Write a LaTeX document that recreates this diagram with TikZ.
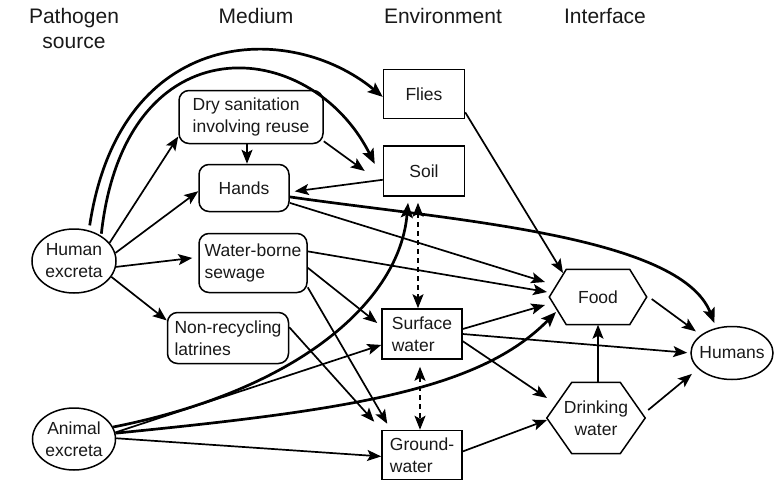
\documentclass[tikz,border=0pt]{standalone}
\usepackage{fontspec}
\setmainfont{Liberation Sans}
\usetikzlibrary{arrows.meta,shapes.geometric}
\begin{document}
\begin{tikzpicture}[x=1pt,y=-1pt,
  every node/.style={font=\fontsize{17.5}{22}\selectfont, text=black!90},
  hdr/.style={font=\fontsize{21}{25}\selectfont, align=center},
  box/.style={draw, line width=1.5pt, rectangle, inner sep=0pt, align=left},
  rbox/.style={box, rounded corners=10pt},
  oval/.style={draw, line width=1.5pt, ellipse, inner sep=0pt, align=center},
  hexnode/.style={inner sep=0pt, align=center},
  hexline/.style={line width=1.5pt, line join=miter},
  ln/.style={line width=1.7pt, -{Stealth[length=14pt,width=11pt,inset=3pt]}},
  bln/.style={line width=2.7pt, -{Stealth[length=15pt,width=12pt,inset=3pt]}},
  dbl/.style={line width=1.5pt, dash pattern=on 5pt off 4pt,
    {Stealth[length=14pt,width=11pt,inset=3pt]}-{Stealth[length=14pt,width=11pt,inset=3pt]}},
]
\path[fill=white, use as bounding box] (0,0) rectangle (774,488);

% headers
\node[hdr] (h1) at (74,28) {Pathogen\\source};
\node[hdr, anchor=base] (h2) at (256,23) {Medium};
\node[hdr, anchor=base] (h3) at (443,23) {Environment};
\node[hdr, anchor=base] (h4) at (605,23) {Interface};

% nodes
\node[oval, minimum width=84pt, minimum height=64pt] (he) at (74,261) {Human\\excreta};
\node[oval, minimum width=83pt, minimum height=62pt] (ae) at (74,439) {Animal\\excreta};
\node[rbox, minimum width=144pt, minimum height=53pt] (dry) at (251,117) {Dry sanitation\\involving reuse};
\node[rbox, minimum width=90pt, minimum height=47pt] (hands) at (244,188) {Hands};
\node[rbox, minimum width=108pt, minimum height=59pt] (wbs) at (253,263) {Water-borne\\sewage};
\node[rbox, minimum width=121pt, minimum height=51pt] (nrl) at (228,338) {Non-recycling\\latrines};
\node[box, minimum width=81pt, minimum height=49pt] (flies) at (424,94) {Flies};
\node[box, minimum width=81pt, minimum height=50pt] (soil) at (424,171) {Soil};
\node[box, minimum width=80pt, minimum height=50pt] (sw) at (422,334) {Surface\\water};
\node[box, minimum width=80pt, minimum height=49pt] (gw) at (422,455) {Ground-\\water};
\node[hexnode, minimum width=97pt, minimum height=55pt] (food) at (598,297) {Food};
\node[hexnode, minimum width=98pt, minimum height=71pt] (dw) at (596,418) {Drinking\\water};
\node[oval, minimum width=82pt, minimum height=53pt, label={center:Humans}] (humans) at (732,353) {};

% hexagon outlines
\draw[hexline] (food.west) -- ([xshift=17pt]food.north west) -- ([xshift=-17pt]food.north east)
  -- (food.east) -- ([xshift=-17pt]food.south east) -- ([xshift=17pt]food.south west) -- cycle;
\draw[hexline] (dw.west) -- ([xshift=25pt]dw.north west) -- ([xshift=-25pt]dw.north east)
  -- (dw.east) -- ([xshift=-25pt]dw.south east) -- ([xshift=25pt]dw.south west) -- cycle;

% human excreta
\draw[bln, shorten <=5pt] (he.64) .. controls (120,25) and (290,20) .. (flies.184);
\draw[bln, shorten <=2pt] (he.43) .. controls (125,20) and (310,35) .. ([shift={(-8,-7)}]soil.west);
\draw[ln] (he.27) -- (dry.195);
\draw[ln] (he.11) -- (hands.184);
\draw[ln, shorten >=6pt] (he.-8) -- (wbs.174);
\draw[ln] (he.-23) -- (nrl.164);

% medium
\draw[ln] ([xshift=-4pt]dry.south) -- ([xshift=3pt]hands.north);
\draw[ln] ([shift={(0,-3)}]dry.south east) -- ([shift={(-18,0)}]soil.west);
\draw[ln, shorten >=5pt] (soil.192) -- (hands.-5);
\draw[bln, shorten >=5pt] (hands.-11) .. controls (450,220) and (680,235) .. (humans.122);
\draw[ln] (hands.-18) -- ([shift={(-53,-15)}]food.center);
\draw[ln] (flies.-24) -- ([shift={(-35,-24)}]food.center);
\draw[ln] (wbs.12) -- ([shift={(-51,-5)}]food.center);
\draw[ln] (wbs.-5) -- ([shift={(-4,-11)}]sw.west);
\draw[ln] (wbs.-24) -- ([shift={(6,-6)}]gw.north west);
\draw[ln] (nrl.10) -- ([shift={(-7,-8)}]gw.north west);

% animal excreta
\draw[bln] (ae.17) .. controls (300,390) and (400,300) .. ([shift={(-16,6)}]soil.south);
\draw[bln] (ae.8) .. controls (350,410) and (480,390) .. ([shift={(-42,15)}]food.center);
\draw[ln] (ae.9) -- (sw.195);
\draw[ln] (ae.1) -- (gw.182);

% environment links
\draw[dbl] ([shift={(-6,6)}]soil.south) -- ([xshift=-4pt]sw.north);
\draw[dbl] ([shift={(-2,7)}]sw.south) -- ([xshift=-2pt]gw.north);
\draw[ln] (sw.7) -- ([shift={(-53,8)}]food.center);
\draw[ln, shorten >=3pt] (sw.0) -- (humans.west);
\draw[ln] (sw.-10) -- ([shift={(-49,-20)}]dw.center);
\draw[ln] (gw.5) -- ([shift={(-49,2)}]dw.center);

% interface
\draw[ln] ([xshift=2pt]dw.north) -- (food.south);
\draw[ln, shorten >=8pt] ([shift={(3,-8)}]dw.east) -- (humans.205);
\draw[ln, shorten >=6pt] ([shift={(5,2)}]food.east) -- (humans.150);
\end{tikzpicture}
\end{document}
